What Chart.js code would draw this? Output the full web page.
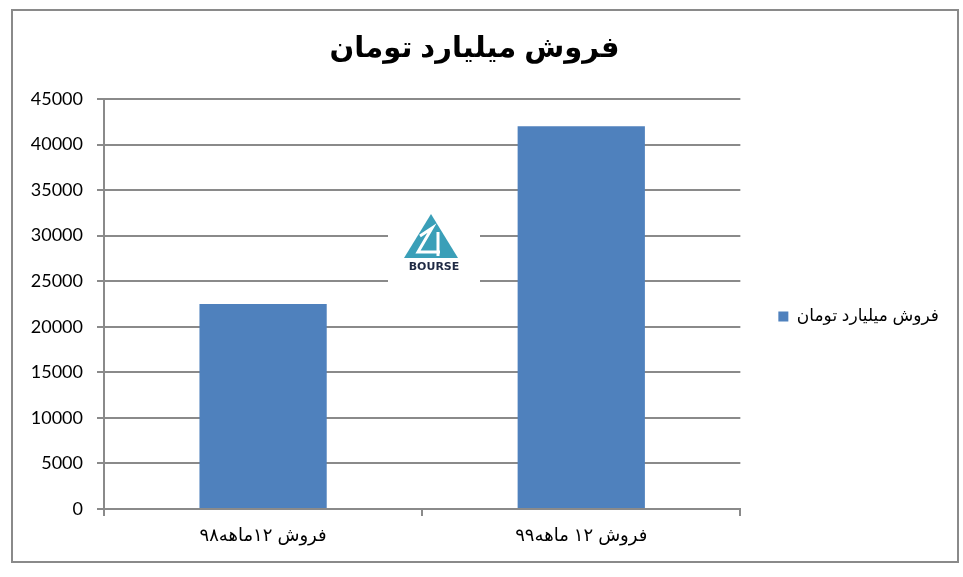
<!DOCTYPE html>
<html>
<head>
<meta charset="utf-8">
<script src="https://cdn.jsdelivr.net/npm/chart.js@4.4.1/dist/chart.umd.min.js"></script>
<style>
  html, body { margin: 0; padding: 0; background: #fff; }
  #wrap { width: 963px; height: 577px; }
</style>
</head>
<body>
<div id="wrap"><canvas id="salesChart" width="963" height="577"></canvas></div>
<script>
const chartTitle = "فروش میلیارد تومان";
const seriesName = "فروش میلیارد تومان";
const categories = ["فروش ۱۲ماهه۹۸", "فروش ۱۲ ماهه۹۹"];
const salesValues = [22500, 42000];
const yTicks = [0, 5000, 10000, 15000, 20000, 25000, 30000, 35000, 40000, 45000];

const gridGray = "#8a8a8a";
const arabicFont = 'Arial, "Liberation Sans", "DejaVu Sans", sans-serif';

// outer frame + white page
const framePlugin = {
    id: "frame",
    beforeDraw(chart) {
        const ctx = chart.ctx;
        ctx.save();
        ctx.fillStyle = "#fff";
        ctx.fillRect(0, 0, chart.width, chart.height);
        ctx.strokeStyle = gridGray;
        ctx.lineWidth = 2;
        ctx.strokeRect(12, 10, 946, 552);
        ctx.restore();
    }
};

// the legend sits a bit below the middle of the plot in the original
const legendShift = {
    id: "legendShift",
    afterLayout(chart) {
        if (chart.legend) {
            chart.legend.top += 28;
            chart.legend.bottom += 28;
        }
    }
};

// watermark logo drawn over the grid, under the bars
const watermark = {
    id: "watermark",
    beforeDatasetsDraw(chart) {
        const ctx = chart.ctx;
        ctx.save();
        ctx.fillStyle = "#fff";
        ctx.fillRect(388, 201, 92, 82);
        ctx.fillStyle = "#3a9fb8";
        ctx.beginPath();
        ctx.moveTo(431, 214);
        ctx.lineTo(458, 258);
        ctx.lineTo(404, 258);
        ctx.closePath();
        ctx.fill();
        ctx.strokeStyle = "#fff";
        ctx.lineWidth = 3;
        ctx.beginPath();
        ctx.moveTo(420, 236);
        ctx.lineTo(432, 228);
        ctx.lineTo(418, 252);
        ctx.lineTo(440, 252);
        ctx.moveTo(438, 232);
        ctx.lineTo(438, 256);
        ctx.stroke();
        ctx.fillStyle = "#1f2a44";
        ctx.font = "bold 11px 'DejaVu Sans', sans-serif";
        ctx.textAlign = "center";
        ctx.textBaseline = "middle";
        ctx.fillText("BOURSE", 434, 267);
        ctx.restore();
    }
};

new Chart(document.getElementById("salesChart"), {
    type: "bar",
    data: {
        labels: categories,
        datasets: [{
            label: seriesName,
            data: salesValues,
            backgroundColor: "#4f81bd",
            borderWidth: 0,
            barPercentage: 0.4,
            categoryPercentage: 1.0
        }]
    },
    options: {
        responsive: false,
        devicePixelRatio: 1,
        animation: false,
        layout: { padding: { left: 0, right: 14, top: 0, bottom: 0 } },
        plugins: {
            title: {
                display: true,
                text: chartTitle,
                color: "#000",
                font: { family: arabicFont, size: 29, weight: "bold" },
                padding: { top: 32, bottom: 32.2 }
            },
            legend: {
                position: "right",
                labels: {
                    color: "#000",
                    boxWidth: 10,
                    boxHeight: 10,
                    padding: 38,
                    font: { family: arabicFont, size: 17 }
                }
            },
            tooltip: { enabled: false }
        },
        scales: {
            x: {
                offset: true,
                afterFit(scale) { scale.height = 68; },
                grid: {
                    display: true,
                    offset: true,
                    drawOnChartArea: false,
                    drawTicks: true,
                    tickLength: 7,
                    color: gridGray,
                    lineWidth: 2
                },
                border: { color: gridGray, width: 2 },
                ticks: {
                    color: "#000",
                    padding: 9,
                    font: { family: arabicFont, size: 18 }
                }
            },
            y: {
                min: yTicks[0],
                max: yTicks[yTicks.length - 1],
                afterFit(scale) { scale.width = 104; },
                grid: {
                    color: gridGray,
                    lineWidth: 2,
                    tickLength: 7
                },
                border: { color: gridGray, width: 2 },
                ticks: {
                    stepSize: yTicks[1] - yTicks[0],
                    color: "#000",
                    padding: 14,
                    font: { family: "Lato, 'Open Sans', sans-serif", size: 18 },
                    callback: v => String(v)
                }
            }
        }
    },
    plugins: [framePlugin, legendShift, watermark]
});
</script>
</body>
</html>
